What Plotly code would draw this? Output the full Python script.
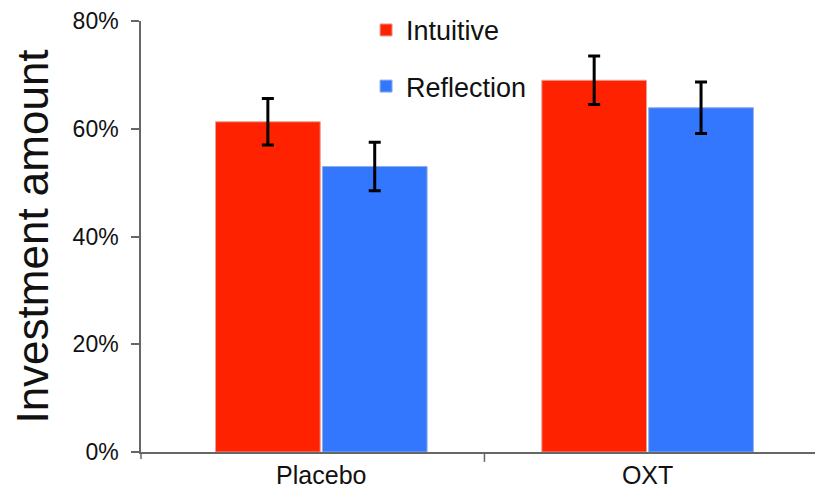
import plotly.graph_objects as go

categories = ["Placebo", "OXT"]
intuitive = [61.3, 69.0]
intuitive_err = [4.3, 4.5]
reflection = [53.0, 63.9]
reflection_err = [4.5, 4.8]
y_ticks = [0, 20, 40, 60, 80]
y_tick_labels = ["0%", "20%", "40%", "60%", "80%"]

FONT = "Liberation Sans, Arial, sans-serif"

fig = go.Figure()
fig.add_trace(go.Bar(
    name="Intuitive", x=categories, y=intuitive, legendgroup="a",
    marker=dict(color="#ff2200", line=dict(color="#e8a090", width=1)),
    error_y=dict(type="data", array=intuitive_err, color="black", thickness=3, width=6),
))
fig.add_trace(go.Bar(
    name="Reflection", x=categories, y=reflection, legendgroup="b",
    marker=dict(color="#3377ff", line=dict(color="#8fb0e0", width=1)),
    error_y=dict(type="data", array=reflection_err, color="black", thickness=3, width=6),
))

# page body has an 8px default margin, so the figure is 815x487
fig.update_layout(
    width=815, height=487,
    margin=dict(l=133, r=0, t=13, b=43, autoexpand=False),
    plot_bgcolor="white", paper_bgcolor="white",
    font=dict(family=FONT, color="#111"),
    barmode="group", bargap=0.345, bargroupgap=0.02,
    showlegend=True,
    legend=dict(x=0.33, y=1.035, xanchor="left", yanchor="top",
                font=dict(size=27, color="#111"), tracegroupgap=18,
                bgcolor="rgba(0,0,0,0)"),
    xaxis=dict(range=[-0.5525, 1.5375], showline=True, linecolor="#666", linewidth=1.5,
               ticks="", tickfont=dict(size=25, color="#111"), showgrid=False,
               automargin=False),
    yaxis=dict(range=[0, 80], tickvals=y_ticks, ticktext=y_tick_labels,
               showline=True, linecolor="#666", linewidth=1.5,
               ticks="outside", ticklen=8, tickcolor="#666", tickwidth=1.5,
               ticklabelstandoff=8, automargin=False,
               tickfont=dict(size=23, color="#111"), showgrid=False, zeroline=False,
               title=dict(text="Investment amount", font=dict(size=44, color="#111"), standoff=14)),
)
# axis extension and category boundary tick
fig.add_shape(type="line", xref="paper", yref="paper", x0=0, x1=0, y0=0, y1=-0.016,
              line=dict(color="#666", width=1.5))
fig.add_shape(type="line", xref="x", yref="paper", x0=0.5, x1=0.5, y0=0, y1=-0.023,
              line=dict(color="#666", width=1.5))

fig.write_html("out.html")
